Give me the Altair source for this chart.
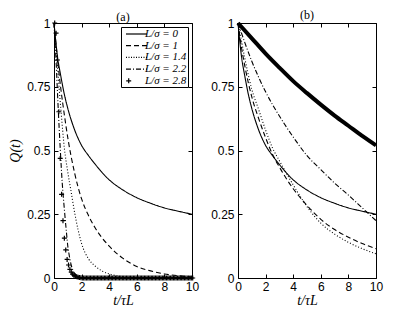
import altair as alt
import pandas as pd

# ---------------- data ----------------
SERIES = ["L/σ = 0", "L/σ = 1", "L/σ = 1.4", "L/σ = 2.2", "L/σ = 2.8"]
X_TICKS = [0, 2, 4, 6, 8, 10]
Y_TICKS = [0, 0.25, 0.5, 0.75, 1]

# L/sigma = 0 (same curve in both panels)
S0_T = [0, 0.25, 0.5, 0.75, 1, 1.5, 2, 2.5, 3, 4, 5, 6, 7, 8, 9, 10]
S0_Q = [1.0, 0.87, 0.79, 0.72, 0.665, 0.58, 0.52, 0.48, 0.445, 0.385, 0.345,
        0.315, 0.293, 0.275, 0.262, 0.25]

# panel (a)
A1_T = [0, 0.25, 0.5, 0.75, 1, 1.5, 2, 2.5, 3, 4, 5, 6, 7, 8, 9, 10]
A1_Q = [1.0, 0.86, 0.74, 0.64, 0.55, 0.41, 0.31, 0.245, 0.195, 0.125, 0.077,
        0.045, 0.028, 0.016, 0.009, 0.004]
A14_T = [0, 0.25, 0.5, 0.75, 1, 1.25, 1.5, 2, 2.5, 3, 3.5, 4, 5, 6, 7, 8, 10]
A14_Q = [1.0, 0.83, 0.66, 0.51, 0.415, 0.335, 0.255, 0.135, 0.075, 0.046,
         0.027, 0.016, 0.005, 0.0015, 0.0005, 0.0, 0.0]
A22_T = [0, 0.15, 0.3, 0.45, 0.6, 0.75, 0.9, 1.0, 1.1, 1.25, 1.4, 1.6, 1.8,
         2, 2.5, 3, 10]
A22_Q = [1.0, 0.85, 0.67, 0.51, 0.37, 0.27, 0.18, 0.125, 0.09, 0.05, 0.027,
         0.012, 0.005, 0.002, 0.0005, 0.0, 0.0]
A28_T = [i / 10 for i in range(101)]
A28_Q = [1.0, 0.96, 0.855, 0.652, 0.469, 0.328, 0.225, 0.156, 0.11, 0.073,
         0.051, 0.034, 0.023, 0.015, 0.01, 0.007, 0.005, 0.003, 0.002, 0.001,
         0, 0, 0, 0, 0, 0, 0, 0, 0, 0,
         0, 0, 0, 0, 0, 0, 0, 0, 0, 0,
         0, 0, 0, 0, 0, 0, 0, 0, 0, 0,
         0, 0, 0, 0, 0, 0, 0, 0, 0, 0,
         0, 0, 0, 0, 0, 0, 0, 0, 0, 0,
         0, 0, 0, 0, 0, 0, 0, 0, 0, 0,
         0, 0, 0, 0, 0, 0, 0, 0, 0, 0,
         0, 0, 0, 0, 0, 0, 0, 0, 0, 0, 0]

# panel (b)
B1_T = [0, 0.25, 0.5, 1, 1.5, 2, 2.5, 3, 4, 5, 6, 7, 8, 9, 10]
B1_Q = [1.0, 0.905, 0.83, 0.71, 0.625, 0.55, 0.485, 0.435, 0.35, 0.285, 0.23,
        0.19, 0.16, 0.135, 0.115]
B14_T = [0, 0.25, 0.5, 1, 1.5, 2, 2.5, 3, 4, 5, 6, 7, 8, 9, 10]
B14_Q = [1.0, 0.93, 0.86, 0.74, 0.66, 0.58, 0.51, 0.46, 0.365, 0.28, 0.215,
         0.172, 0.14, 0.115, 0.095]
B22_T = [0, 1, 2, 3, 4, 5, 6, 7, 8, 9, 10]
B22_Q = [1.0, 0.85, 0.73, 0.635, 0.553, 0.48, 0.425, 0.372, 0.325, 0.275, 0.225]
B28_T = [0, 1, 2, 3, 4, 5, 6, 7, 8, 9, 10]
B28_Q = [1.0, 0.94, 0.88, 0.825, 0.772, 0.725, 0.68, 0.637, 0.597, 0.557, 0.52]

# ---------------- styles ----------------
W, H = 138, 255
TICK = 4
LINE_SERIES = SERIES[:4]
DASHES = [[1, 0], [5, 3], [1, 2], [5, 2, 1, 2]]
SYM = 100  # symbol area: 10 px box, 5 px per path unit
LEGEND_SHAPES = [
    "M-0.4,0H3.8",
    "M-0.4,0H0.6M1.2,0H2.2M2.8,0H3.8",
    "M-0.4,0H-0.2M0.1,0H0.3M0.6,0H0.8M1.1,0H1.3M1.6,0H1.8"
    "M2.1,0H2.3M2.6,0H2.8M3.1,0H3.3M3.6,0H3.8",
    "M-0.4,0H0.6M1,0H1.2M1.6,0H2.6M3,0H3.2M3.6,0H3.8",
    "M-0.36,0H0.64M0.14,-0.5V0.5",
]
SERIF = "Liberation Serif"
SANS = "Liberation Sans"


def frame(pairs):
    rows = []
    for name, ts, qs in pairs:
        for t, q in zip(ts, qs):
            rows.append({"t": t, "q": q, "series": name})
    return pd.DataFrame(rows)


df_a_lines = frame([(SERIES[0], S0_T, S0_Q), (SERIES[1], A1_T, A1_Q),
                    (SERIES[2], A14_T, A14_Q), (SERIES[3], A22_T, A22_Q)])
df_a_pts = frame([(SERIES[4], A28_T, A28_Q)])
df_b_lines = frame([(SERIES[0], S0_T, S0_Q), (SERIES[1], B1_T, B1_Q),
                    (SERIES[2], B14_T, B14_Q), (SERIES[3], B22_T, B22_Q)])
df_b_thick = frame([(SERIES[4], B28_T, B28_Q)])


def x_enc():
    return alt.X("t:Q", scale=alt.Scale(domain=[0, 10], nice=False, zero=False),
                 axis=alt.Axis(values=X_TICKS, title="t/τL", format="d",
                               grid=True, gridDash=[TICK, H - 2 * TICK, TICK, 3000],
                               labelFlush=False, labelOverlap=False,
                               labelPadding=3, titlePadding=1))


def y_enc(title):
    return alt.Y("q:Q", scale=alt.Scale(domain=[0, 1], nice=False),
                 axis=alt.Axis(values=Y_TICKS, format=".2~f", grid=True,
                               gridDash=[TICK, W - 2 * TICK, TICK, 3000],
                               labelOverlap=False, labelFlush=False, title=title,
                               labelPadding=4, titlePadding=4))


dash_enc = alt.StrokeDash("series:N",
                          scale=alt.Scale(domain=LINE_SERIES, range=DASHES),
                          legend=None)

lines_a = alt.Chart(df_a_lines).mark_line(
    color="black", strokeWidth=1.1, interpolate="monotone"
).encode(x=x_enc(), y=y_enc("Q(t)"), strokeDash=dash_enc)

pts_a = alt.Chart(df_a_pts).mark_point(
    size=SYM, filled=False, color="black", strokeWidth=1.2, opacity=1
).encode(
    x=x_enc(), y=y_enc("Q(t)"),
    shape=alt.Shape("series:N",
                    scale=alt.Scale(domain=SERIES, range=LEGEND_SHAPES),
                    legend=alt.Legend(title=None, orient="top-right", offset=4,
                                      fillColor="white", strokeColor="black",
                                      padding=1, symbolSize=SYM, symbolOffset=0,
                                      symbolStrokeColor="black", symbolStrokeWidth=1.2,
                                      symbolOpacity=1,
                                      labelOffset=11, labelFont=SERIF,
                                      labelFontStyle="italic", labelFontSize=11,
                                      labelColor="black", rowPadding=0.7)),
)

panel_a = alt.layer(lines_a, pts_a).properties(
    width=W, height=H,
    title=alt.TitleParams("(a)", font=SERIF, fontSize=12, fontWeight="normal",
                          color="black", offset=-7, frame="group"),
)

lines_b = alt.Chart(df_b_lines).mark_line(
    color="black", strokeWidth=1.1, interpolate="monotone"
).encode(x=x_enc(), y=y_enc(""), strokeDash=dash_enc)

thick_b = alt.Chart(df_b_thick).mark_line(
    color="black", strokeWidth=4, interpolate="monotone"
).encode(x=x_enc(), y=y_enc(""))

panel_b = alt.layer(lines_b, thick_b).properties(
    width=W, height=H,
    title=alt.TitleParams("(b)", font=SERIF, fontSize=12, fontWeight="normal",
                          color="black", offset=-7, frame="group"),
)

chart = alt.hconcat(panel_a, panel_b, spacing=10).resolve_scale(
    shape="independent", strokeDash="independent"
).properties(
    padding={"left": 0, "top": 0, "right": 0, "bottom": 0}
).configure_view(
    stroke="black", strokeWidth=1
).configure_axis(
    domain=False, ticks=False, gridColor="black", gridWidth=1, gridOpacity=1,
    labelFont=SANS, labelFontSize=12, labelColor="black",
    labelOverlap=False,
    titleFont=SERIF, titleFontSize=14, titleFontWeight="normal",
    titleFontStyle="italic", titleColor="black",
)

chart.save("out.html", embed_options={"renderer": "svg", "actions": False})
